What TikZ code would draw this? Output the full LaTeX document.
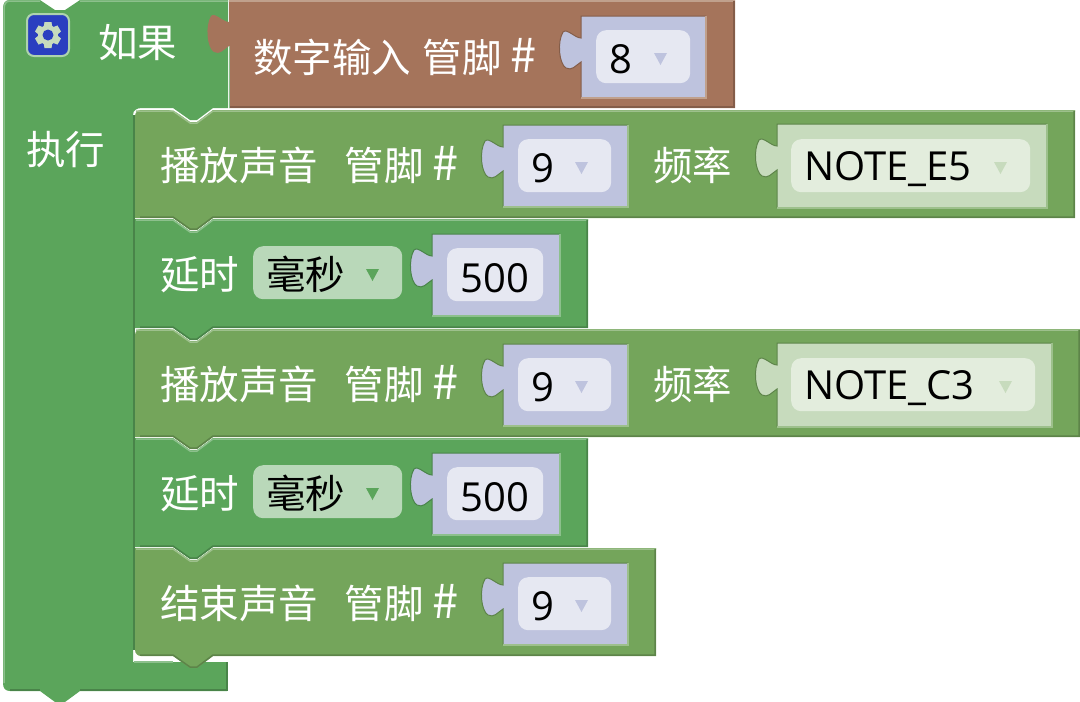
\documentclass[tikz,border=0pt]{standalone}
\usepackage{fontspec}
\setmainfont{Noto Sans CJK SC}
\newfontfamily\valuefont{Open Sans}
\usetikzlibrary{positioning}
\definecolor{mainfill}{HTML}{5BA55B}
\definecolor{maindark}{HTML}{498449}
\definecolor{mainlight}{HTML}{8CC08C}
\definecolor{playfill}{HTML}{74A55B}
\definecolor{playdark}{HTML}{5D8449}
\definecolor{playlight}{HTML}{9DC08C}
\definecolor{pinfill}{HTML}{A5745B}
\definecolor{pindark}{HTML}{845D49}
\definecolor{pinlight}{HTML}{C0A08C}
\definecolor{numfill}{HTML}{BEC3DE}
\definecolor{numfield}{HTML}{E6E8F2}
\definecolor{notefill}{HTML}{C7DBBD}
\definecolor{notefield}{HTML}{E3EDDD}
\definecolor{unitfield}{HTML}{B9D8B9}
\definecolor{gearblue}{HTML}{2A3FC0}
\tikzset{
    label text/.style={text=white, font=\fontsize{39.5}{40}\selectfont, inner sep=0pt, anchor=west},
    value text/.style={text=black, font=\fontsize{40}{40}\valuefont, inner sep=0pt, anchor=west, yshift=-3pt},
    unit text/.style={text=black, font=\fontsize{39.5}{40}\selectfont, inner sep=0pt, anchor=west, yshift=-2pt},
    field box/.style={rounded corners=10pt, inner sep=0pt, minimum height=53pt, anchor=north west},
}
\newcommand{\pinmark}{\hspace{9pt}{\fontsize{47}{40}\selectfont\#}}
% left edge of a socket block, with its puzzle tab
\newcommand{\tabpath}{-- (0,46) .. controls (-6,50) and (-9,55) .. (-15,52) .. controls (-22,48) and (-24,26) .. (-18,16) .. controls (-14,12) and (-6,22) .. (0,22) -- (0,0)}
% right edge, top, bottom, colour family, corner at top, corner at bottom
\newcommand{\stackblock}[6]{
    \fill[#4fill] (135,#2+20) [#5] -- (135,#2) -- (173,#2) [sharp corners] -- (190,#2+12) -- (197,#2+12) -- (213,#2) -- (#1,#2) -- (#1,#3) -- (213,#3) -- (197,#3+12) -- (190,#3+12) -- (173,#3) [#6] -- (135,#3) -- (135,#3-20) [sharp corners] -- cycle;
    \draw[#4light, line width=1.5pt] (136,#2+1) -- (173,#2+1) -- (190,#2+13) -- (197,#2+13) -- (213,#2+1) -- (#1,#2+1);
    \draw[#4dark, line width=1.5pt] (#1-1,#2+1) -- (#1-1,#3-1) -- (213,#3-1) -- (197,#3+11) -- (190,#3+11) -- (173,#3-1) -- (140,#3-1);
}
% x, y, width, height, fill, colour family of the block behind
\newcommand{\valueslot}[6]{
    \begin{scope}[shift={(#1,#2)}]
    \fill[#5] (0,0) -- (#3,0) -- (#3,#4) -- (0,#4) \tabpath -- cycle;
    \draw[#6dark, line width=1pt] (0,#4) \tabpath -- (#3,0);
    \draw[#6light, line width=1.5pt] (#3,0) -- (#3,#4) -- (0,#4);
    \end{scope}
}
% name, x, y, width, field colour, text, text style, triangle colour
\newcommand{\dropfield}[8]{
    \node[field box, fill=#5, minimum width=#4] (#1) at (#2,#3) {};
    \node[#7, right=13pt of #1.west] (#1 text) {#6};
    \fill[#8] (#2+#4-36,#3+23) -- (#2+#4-23,#3+23) -- (#2+#4-29.5,#3+35) -- cycle;
}
\begin{document}
\begin{tikzpicture}[x=1pt,y=-1pt]
    \useasboundingbox (0,0) rectangle (1080,702);
    % the enclosing block
    \fill[mainfill] (3,9) .. controls (3,3) and (5,0) .. (10,0) -- (40,0) -- (55,10) -- (65,10) -- (80,0) -- (228,0) -- (228,108) -- (213,108) -- (197,120) -- (190,120) -- (173,108) -- (142,108) .. controls (137,108) and (133,110) .. (133,115) -- (133,662) -- (227,662) -- (227,691) -- (80,691) -- (65,702) -- (55,702) -- (40,691) -- (10,691) .. controls (5,691) and (3,688) .. (3,683) -- cycle;
    \draw[mainlight, line width=1.5pt] (4,683) -- (4,9) .. controls (4,4) and (6,1) .. (10,1) -- (40,1) (80,1) -- (228,1);
    \draw[maindark, line width=1.5pt] (134,650) -- (134,115);
    \draw[mainlight, line width=1.5pt] (134,662) -- (173,662);
    \draw[maindark, line width=1.5pt] (227,662) -- (227,690) -- (80,690) (40,690) -- (10,690);
    % settings icon
    \draw[mainlight!70!white, fill=gearblue, line width=2pt, rounded corners=7pt] (27,14) rectangle (69,56);
    \begin{scope}[shift={(48,35)}]
    \foreach \a in {0,60,...,300}
        \fill[notefill, rotate=\a] (-3.5,-13) -- (3.5,-13) -- (4.5,-7) -- (-4.5,-7) -- cycle;
    \fill[notefill] (0,0) circle (10);
    \fill[gearblue] (0,0) circle (5.5);
    \end{scope}
    \node[label text] (if label) at (98,43) {如果};
    \node[label text] (do label) at (26,150) {执行};
    % the condition
    \begin{scope}[shift={(229,0)}]
    \fill[pinfill] (0,0) -- (506,0) -- (506,108) -- (0,108) \tabpath -- cycle;
    \draw[pinlight, line width=1.5pt] (0,1) -- (506,1);
    \draw[pindark, line width=1.5pt] (505,1) -- (505,107) -- (0,107);
    \draw[mainlight, line width=1pt] (0,108) -- (0,46);
    \end{scope}
    \node[label text] (read label) at (253,57) {数字输入};
    \node[label text, right=11pt of read label] (read pin) {管脚\pinmark};
    \valueslot{581}{16}{125}{82}{numfill}{pin}
    \dropfield{read num}{596}{30}{94}{numfield}{8}{value text}{numfill}
    % the statements
    \foreach \r/\ytop/\w/\nw/\t in {a/110/1075/270/E5,b/329/1080/275/C3}{
        \stackblock{\w}{\ytop}{\ytop+108}{play}{rounded corners=6pt}{sharp corners}
        \begin{scope}[shift={(0,\ytop)}]
        \node[label text] (play\r) at (160,55) {播放声音};
        \node[label text, right=26pt of play\r] (pin\r) {管脚\pinmark};
        \valueslot{503}{15}{125}{82}{numfill}{play}
        \dropfield{num\r}{518}{29}{93}{numfield}{9}{value text}{numfill}
        \node[label text] (freq\r) at (653,55) {频率};
        \valueslot{777}{14}{\nw}{84}{notefill}{play}
        \dropfield{note\r}{791}{29}{\nw-31}{notefield}{NOTE\_\t}{value text}{notefill}
        \end{scope}
    }
    \foreach \r/\ytop in {a/219,b/438}{
        \stackblock{588}{\ytop}{\ytop+109}{main}{sharp corners}{sharp corners}
        \begin{scope}[shift={(0,\ytop)}]
        \node[label text] (delay\r) at (160,56) {延时};
        \dropfield{unit\r}{253}{27}{149}{unitfield}{毫秒}{unit text}{mainfill}
        \valueslot{432}{15}{128}{82}{numfill}{main}
        \node[field box, fill=numfield, minimum width=96] (ms\r) at (447,29) {};
        \node[value text, anchor=center] (ms\r text) at (ms\r) {500};
        \end{scope}
    }
    \stackblock{656}{548}{656}{play}{sharp corners}{rounded corners=6pt}
    \node[label text] (stop label) at (160,603) {结束声音};
    \node[label text, right=26pt of stop label] (stop pin) {管脚\pinmark};
    \valueslot{503}{563}{125}{82}{numfill}{play}
    \dropfield{stop num}{518}{577}{93}{numfield}{9}{value text}{numfill}
\end{tikzpicture}
\end{document}
